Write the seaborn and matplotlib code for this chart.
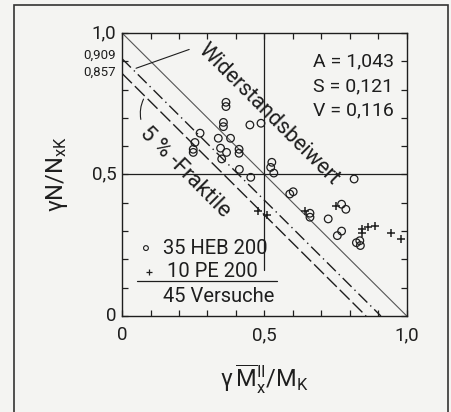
import matplotlib
matplotlib.use("Agg")
import matplotlib.pyplot as plt
import matplotlib.patches as mpatches
import numpy as np
import pandas as pd
import seaborn as sns

# test points
heb_x = [0.365, 0.365, 0.356, 0.356, 0.449, 0.488, 0.274, 0.338, 0.381, 0.256,
         0.250, 0.250, 0.346, 0.367, 0.350, 0.411, 0.411, 0.412, 0.452, 0.526,
         0.522, 0.533, 0.589, 0.601, 0.660, 0.660, 0.724, 0.771, 0.786, 0.771,
         0.756, 0.815, 0.823, 0.835, 0.837]
heb_y = [0.755, 0.740, 0.684, 0.669, 0.675, 0.681, 0.646, 0.628, 0.628, 0.613,
         0.589, 0.578, 0.593, 0.578, 0.555, 0.589, 0.575, 0.518, 0.490, 0.543,
         0.525, 0.505, 0.431, 0.439, 0.363, 0.349, 0.343, 0.395, 0.377, 0.300,
         0.284, 0.484, 0.259, 0.266, 0.249]
pe_x = [0.478, 0.508, 0.644, 0.751, 0.841, 0.841, 0.865, 0.888, 0.946, 0.978]
pe_y = [0.372, 0.357, 0.372, 0.389, 0.306, 0.295, 0.316, 0.318, 0.292, 0.272]

# resistance lines: intercepts
line_levels = [1.0, 0.909, 0.857]
stats_text = ["A = 1,043", "S = 0,121", "V = 0,116"]
legend_lines = ["35 HEB 200", "10 PE 200", "45 Versuche"]

bg = "#f4f4f2"
ink = "#1e1e1e"

sns.set_style("white")
plt.rcParams["font.family"] = ["Roboto", "DejaVu Sans"]
plt.rcParams["mathtext.fontset"] = "custom"
plt.rcParams["mathtext.rm"] = "Roboto"
plt.rcParams["mathtext.it"] = "Roboto"
plt.rcParams["mathtext.default"] = "regular"

fig = plt.figure(figsize=(4.52, 4.12), dpi=100, facecolor=bg)
ax = fig.add_axes([0.270, 0.233, 0.630, 0.687])
ax.set_facecolor(bg)

heb = pd.DataFrame({"x": heb_x, "y": heb_y})
pe = pd.DataFrame({"x": pe_x, "y": pe_y})
sns.scatterplot(data=heb, x="x", y="y", marker="o", s=30, fc="none",
                ec=ink, linewidth=0.9, ax=ax, zorder=5)
sns.scatterplot(data=pe, x="x", y="y", marker="+", s=34, color=ink,
                linewidth=1.1, ax=ax, zorder=5)

# diagonal lines
styles = [dict(ls="-", lw=0.8, color="#555555"),
          dict(ls=(0, (9, 3, 1, 3)), lw=1.0, color=ink),
          dict(ls=(0, (10, 3)), lw=1.0, color=ink)]
for c, st in zip(line_levels, styles):
    ax.plot([0, c], [c, 0], **st)

# reference cross
ax.axhline(0.5, color=ink, lw=0.9)
ax.plot([0.5, 0.5], [0.163, 1.0], color=ink, lw=0.9)

ax.set_xlim(0, 1)
ax.set_ylim(0, 1)
for s in ax.spines.values():
    s.set_visible(True)
    s.set_color(ink)
    s.set_linewidth(1.0)

ax.set_xticks(np.arange(0, 1.01, 0.1))
ax.set_yticks(np.arange(0, 1.01, 0.1))
ax.set_xticklabels([])
ax.set_yticklabels([])
ax.tick_params(direction="in", length=4, width=0.9, color=ink,
               top=True, right=True, bottom=True, left=True)

# tick labels
for v, t in [(0, "0"), (0.5, "0,5"), (1.0, "1,0")]:
    ax.text(v, -0.035, t, ha="center", va="top", fontsize=13.5, color=ink)
for v, t in [(0, "0"), (0.5, "0,5"), (1.0, "1,0")]:
    ax.text(-0.02, v, t, ha="right", va="center", fontsize=13.5, color=ink)
ax.text(-0.02, 0.922, "0,909", ha="right", va="center", fontsize=9.5, color=ink)
ax.text(-0.02, 0.860, "0,857", ha="right", va="center", fontsize=9.5, color=ink)

ax.set_xlabel(r"$\gamma\,\overline{M}_x^{II}/M_K$", fontsize=17, color=ink,
              labelpad=30)
ax.set_ylabel(r"$\gamma N/N_{xK}$", fontsize=17, color=ink, labelpad=34)

# annotations
ax.text(0.515, 0.712, "Widerstandsbeiwert", rotation=-45, rotation_mode="anchor",
        ha="center", va="center", fontsize=15.5, color=ink)
ax.annotate("", xy=(0.04, 0.872), xytext=(0.245, 0.945),
            arrowprops=dict(arrowstyle="-", color=ink, lw=0.8))
ax.text(0.222, 0.507, "5 % -Fraktile", rotation=-45, rotation_mode="anchor",
        ha="center", va="center", fontsize=16, color=ink)
ax.annotate("", xy=(0.080, 0.775), xytext=(0.068, 0.685),
            arrowprops=dict(arrowstyle="-", color=ink, lw=0.8,
                            connectionstyle="arc3,rad=-0.2"))

for i, t in enumerate(stats_text):
    ax.text(0.672, 0.898 - i * 0.086, t, ha="left", va="center", fontsize=14,
            color=ink)

# hand-drawn key
ax.scatter([0.084], [0.240], marker="o", s=12, fc="none", ec=ink, lw=0.8)
ax.scatter([0.096], [0.157], marker="+", s=16, color=ink, lw=0.9)
ax.text(0.145, 0.240, legend_lines[0], ha="left", va="center", fontsize=14.5,
        color=ink)
ax.text(0.157, 0.157, legend_lines[1], ha="left", va="center", fontsize=14.5,
        color=ink)
ax.plot([0.051, 0.543], [0.124, 0.124], color=ink, lw=0.9)
ax.text(0.143, 0.068, legend_lines[2], ha="left", va="center", fontsize=14.5,
        color=ink)

# outer frame
fig.patches.append(mpatches.Rectangle((0.031, -0.02), 0.960, 1.008,
                                      transform=fig.transFigure, fill=False,
                                      ec="#333333", lw=1.2))

fig.savefig("out.png", dpi=100, facecolor=bg)
